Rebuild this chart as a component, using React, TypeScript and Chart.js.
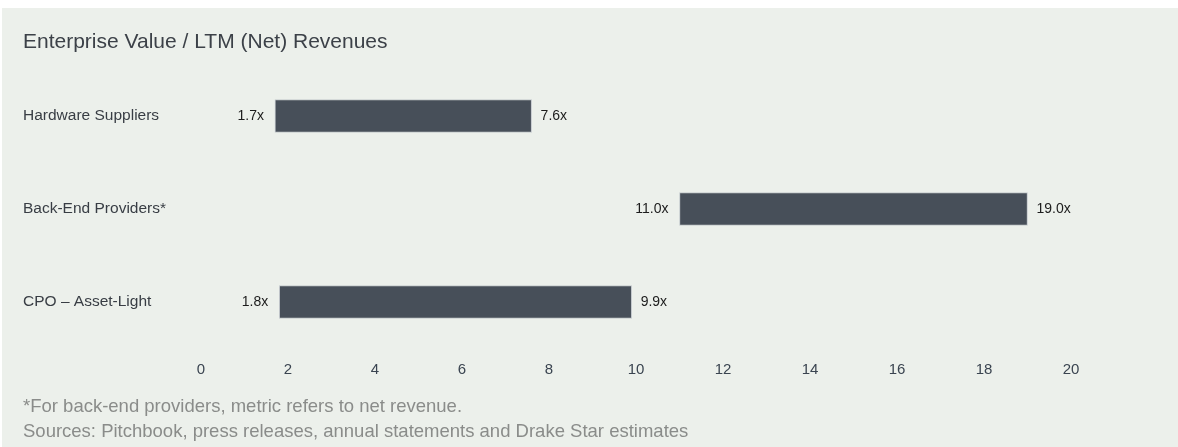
import React, { useEffect, useRef } from "react";
import { Chart, registerables } from "chart.js";

Chart.register(...registerables);

const categories = ["Hardware Suppliers", "Back-End Providers*", "CPO – Asset-Light"];
const lowValues = [1.7, 11.0, 1.8];
const highValues = [7.6, 19.0, 9.9];
const xMin = 0;
const xMax = 20;
const xStep = 2;
const titleText = "Enterprise Value / LTM (Net) Revenues";
const footnotes = [
  "*For back-end providers, metric refers to net revenue.",
  "Sources: Pitchbook, press releases, annual statements and Drake Star estimates",
];

const FONT = "'Liberation Sans', Arial, sans-serif";

const rangeLabels = {
  id: "rangeLabels",
  afterDatasetsDraw(chart: any) {
    const ctx = chart.ctx;
    const meta = chart.getDatasetMeta(0);
    ctx.save();
    ctx.font = `14px ${FONT}`;
    ctx.fillStyle = "#1c1c1c";
    ctx.textBaseline = "middle";
    meta.data.forEach((el: any, i: number) => {
      const left = Math.min(el.x, el.base);
      const right = Math.max(el.x, el.base);
      ctx.textAlign = "right";
      ctx.fillText(lowValues[i].toFixed(1) + "x", left - 11, el.y);
      ctx.textAlign = "left";
      ctx.fillText(highValues[i].toFixed(1) + "x", right + 9, el.y);
    });
    ctx.restore();
  },
};

export default function App() {
  const ref = useRef<HTMLCanvasElement | null>(null);

  useEffect(() => {
    document.body.style.margin = "0";
    const canvas = ref.current!;
    const chart = new Chart(canvas, {
      type: "bar",
      data: {
        labels: categories,
        datasets: [
          {
            data: lowValues.map((v, i) => [v, highValues[i]]),
            backgroundColor: "#474f59",
            borderColor: "#c3c8cc",
            borderWidth: 1,
            borderSkipped: false,
            barThickness: 33,
          },
        ],
      },
      options: {
        indexAxis: "y",
        responsive: false,
        animation: false,
        layout: { padding: { left: 21, right: 107, top: 61.5, bottom: 58.5 } },
        plugins: {
          legend: { display: false },
          tooltip: { enabled: false },
          title: { display: false },
        },
        scales: {
          x: {
            type: "linear",
            min: xMin,
            max: xMax,
            grid: { display: false, drawTicks: false },
            border: { display: false },
            ticks: {
              stepSize: xStep,
              padding: 12,
              color: "#3a4450",
              font: { family: FONT, size: 15 },
            },
            afterFit(scale: any) {
              scale.height = 40;
            },
          },
          y: {
            type: "category",
            grid: { display: false, drawTicks: false },
            border: { display: false },
            ticks: {
              crossAlign: "far",
              color: "#383d44",
              font: { family: FONT, size: 15.5 },
            },
            afterFit(scale: any) {
              scale.width = 178;
            },
          },
        },
      },
      plugins: [rangeLabels],
    });
    return () => chart.destroy();
  }, []);

  return (
    <div style={{ position: "relative", width: 1178, height: 447, background: "#ffffff", overflow: "hidden" }}>
      <div style={{ position: "absolute", left: 2, top: 8, width: 1176, height: 439, background: "#ecf0eb" }}>
        <canvas ref={ref} width={1176} height={439} style={{ position: "absolute", left: 0, top: 0, width: 1176, height: 439 }} />
        <div
          style={{
            position: "absolute",
            left: 21,
            top: 22,
            fontFamily: FONT,
            fontSize: 21,
            lineHeight: "21px",
            color: "#3c4148",
            whiteSpace: "nowrap",
          }}
        >
          {titleText}
        </div>
        {footnotes.map((t, i) => (
          <div
            key={i}
            style={{
              position: "absolute",
              left: 21,
              top: 388 + i * 25,
              fontFamily: FONT,
              fontSize: 18.5,
              lineHeight: "19px",
              color: "#8a8c8a",
              whiteSpace: "nowrap",
            }}
          >
            {t}
          </div>
        ))}
      </div>
    </div>
  );
}
